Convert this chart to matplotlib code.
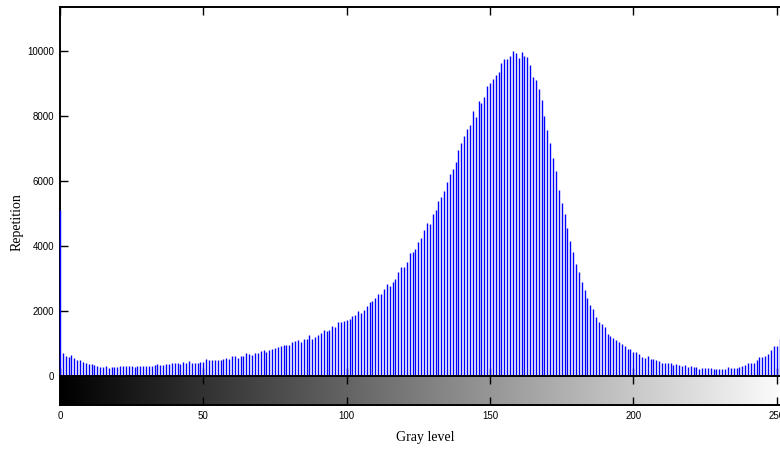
import numpy as np
import matplotlib
matplotlib.use("Agg")
import matplotlib.pyplot as plt

# gray level histogram (counts per bin)
levels = np.arange(256)
counts = [
    5100, 720, 615, 575, 645, 545, 480, 480, 430, 400, 360, 380, 350, 310, 285, 275,
    310, 255, 275, 275, 275, 295, 295, 295, 295, 295, 275, 295, 295, 295, 295, 295,
    295, 330, 360, 330, 340, 360, 360, 390, 390, 390, 360, 420, 400, 450, 410, 410,
    410, 440, 440, 515, 480, 480, 480, 480, 505, 535, 565, 535, 625, 605, 540, 625,
    625, 710, 685, 655, 710, 710, 770, 800, 740, 800, 830, 860, 880, 925, 955, 955,
    955, 1045, 1075, 1095, 1035, 1150, 1130, 1260, 1150, 1200, 1260, 1335, 1405, 1385, 1415, 1540,
    1510, 1660, 1650, 1680, 1720, 1755, 1845, 1875, 1990, 1940, 2030, 2155, 2265, 2320, 2400, 2515,
    2515, 2665, 2840, 2760, 2905, 2985, 3210, 3365, 3365, 3505, 3775, 3805, 3920, 4125, 4245, 4480,
    4710, 4665, 4975, 5120, 5385, 5495, 5690, 5960, 6215, 6370, 6575, 6955, 7160, 7395, 7590, 7715,
    8145, 7960, 8460, 8400, 8585, 8920, 9015, 9140, 9255, 9345, 9625, 9745, 9745, 9840, 10010, 9930,
    9775, 9980, 9840, 9805, 9570, 9195, 9100, 8820, 8490, 7995, 7565, 7155, 6695, 6310, 5725, 5315,
    4975, 4555, 4155, 3805, 3455, 3190, 2905, 2645, 2410, 2175, 2050, 1815, 1670, 1590, 1500, 1290,
    1230, 1170, 1095, 1035, 985, 925, 830, 830, 730, 740, 685, 595, 565, 625, 515, 515,
    480, 450, 410, 390, 390, 390, 330, 360, 330, 310, 330, 265, 295, 265, 265, 205,
    235, 235, 235, 235, 205, 205, 205, 205, 205, 265, 235, 235, 235, 265, 295, 330,
    390, 390, 390, 480, 595, 595, 625, 685, 800, 915, 915, 1140, 1300, 1500, 1750, 2600,
]
x_ticks = [0, 50, 100, 150, 200, 250]
y_ticks = [0, 2000, 4000, 6000, 8000, 10000]

W, H = 780, 449
fig = plt.figure(figsize=(W / 100, H / 100), dpi=100)

tick_font = {"family": "Liberation Sans", "size": 7}
label_font = {"family": "Liberation Serif", "size": 10}

# main stem plot
ax = fig.add_axes([60 / W, (H - 376) / H, (791 - 60) / W, (376 - 7) / H])
ax.vlines(levels, 0, counts, colors="#0000ff", linewidth=1.0, zorder=3, clip_on=False)
ax.set_xlim(0, 255)
ax.set_ylim(0, 11350)
ax.set_xticks(x_ticks)
ax.set_xticklabels([])
ax.set_yticks(y_ticks)
ax.set_yticklabels([str(v) for v in y_ticks], fontdict=tick_font)
ax.tick_params(direction="in", length=6, width=1, top=True, bottom=True, pad=4)
for s in ax.spines.values():
    s.set_linewidth(1.4)

# gray colorbar under the histogram
cax = fig.add_axes([60 / W, (H - 405) / H, (791 - 60) / W, 29 / H])
cax.imshow(np.arange(256)[None, :], cmap="gray", aspect="auto",
           extent=(0, 255, 0, 1), interpolation="bilinear")
cax.set_xlim(0, 255)
cax.set_ylim(0, 1)
cax.set_yticks([])
cax.set_xticks(x_ticks)
cax.set_xticklabels([str(v) for v in x_ticks], fontdict=tick_font)
cax.tick_params(axis="x", direction="in", length=6, width=1, top=True, bottom=True, pad=4)
for s in cax.spines.values():
    s.set_linewidth(1.4)

fig.text(425 / W, 1 - 437 / H, "Gray level", ha="center", va="center", fontdict=label_font)
fig.text(17 / W, 1 - 222 / H, "Repetition", ha="center", va="center", rotation=90,
         fontdict=label_font)

fig.savefig("out.png", dpi=100)
